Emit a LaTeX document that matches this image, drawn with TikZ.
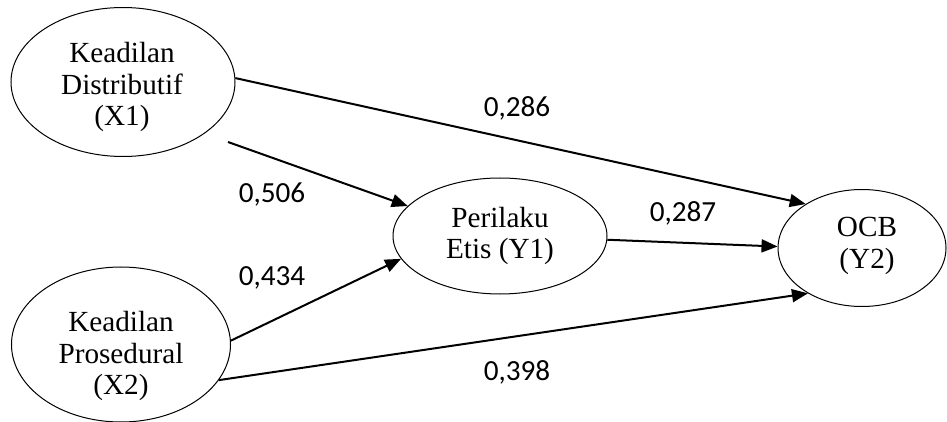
\documentclass[tikz,border=0pt]{standalone}
\usepackage{fontspec}
\setmainfont{Liberation Serif}
\newfontfamily\labfont{Carlito}
\usetikzlibrary{shapes.geometric,arrows.meta}
\begin{document}
\begin{tikzpicture}[x=0.5pt,y=-0.5pt,
  var/.style={draw,ellipse,line width=0.5pt,inner sep=0pt},
  vartext/.style={align=center,inner sep=0pt,font=\fontsize{14.6}{15.6}\selectfont},
  path/.style={line width=1pt,-{Triangle[length=8pt,width=6.5pt]}},
  coef/.style={font=\labfont\fontsize{14.6}{16}\selectfont}]
\useasboundingbox (0,0) rectangle (947,422);
\node[var,minimum width=112pt,minimum height=74.5pt] (X1) at (123,82) {};
\node[vartext] (X1t) at (122,87) {Keadilan\\Distributif\\(X1)};
\node[var,minimum width=109.5pt,minimum height=77.5pt] (X2) at (121,344.5) {};
\node[vartext] (X2t) at (121,356) {Keadilan\\Prosedural\\(X2)};
\node[var,minimum width=107pt,minimum height=58pt] (Y1) at (500,236) {};
\node[vartext] (Y1t) at (500,236) {Perilaku\\Etis (Y1)};
\node[var,minimum width=84pt,minimum height=58.5pt] (Y2) at (862,248) {};
\node[vartext] (Y2t) at (867,246) {OCB\\(Y2)};
\coordinate (s1) at (228,142);
\draw[path] (X1.2) -- (Y2.142);
\draw[path] (s1) -- (Y1.162);
\draw[path] (X2.2) -- (Y1.193);
\draw[path] (X2.-20.7) -- (Y2.220);
\draw[path] (Y1.-2) -- (Y2.179);
\node[coef] (c1) at (517,108) {0,286};
\node[coef] (c2) at (272,195) {0,506};
\node[coef] (c3) at (272,278) {0,434};
\node[coef] (c4) at (683,213) {0,287};
\node[coef] (c5) at (517,372) {0,398};
\end{tikzpicture}
\end{document}
